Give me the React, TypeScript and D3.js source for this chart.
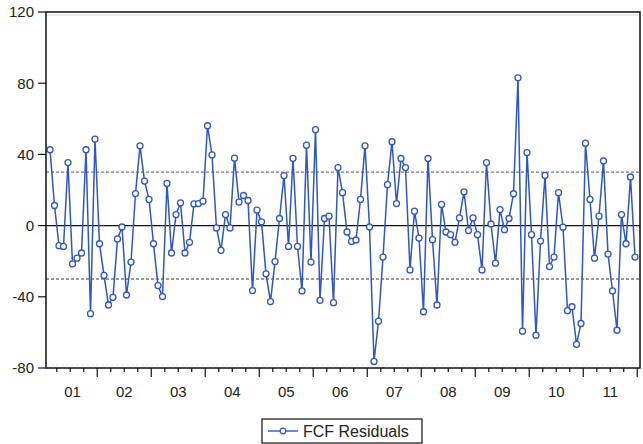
import React from 'react';
import * as d3 from 'd3';

// Monthly FCF residuals, 2001M02 .. 2011M12
const residuals: number[] = [
  42.6, 11.3, -11.3, -11.7, 35.4, -21.5, -18.3, -15.4, 42.6, -49.5, 48.6, -10.2,
  -28, -44.6, -40.3, -7.5, -0.8, -39, -20.5, 18, 44.8, 25, 14.7, -10.2,
  -33.7, -39.9, 23.7, -15.4, 6.2, 12.8, -15.4, -9.4, 12.2, 12.4, 13.7, 56.1,
  39.7, -1.3, -13.9, 6.2, -1.3, 37.9, 13.2, 16.9, 14.1, -36.5, 8.7, 2.1,
  -27.1, -42.7, -20.2, 4, 28.1, -11.7, 37.8, -11.7, -36.7, 45.2, -20.5, 53.9,
  -42, 4, 5.3, -43.3, 32.6, 18.5, -3.6, -8.9, -8.1, 14.7, 44.8, -0.8,
  -76.3, -53.7, -17.7, 23, 47.1, 12.4, 37.7, 32.6, -24.9, 8.1, -7, -48.4,
  37.7, -7.9, -44.6, 11.9, -3.6, -5.1, -9.4, 4.3, 19, -2.8, 4.3, -5.1,
  -24.9, 35.4, 0.9, -21.1, 9, -2.3, 4, 17.9, 83, -59.3, 41, -5.1,
  -61.6, -8.7, 28.2, -23, -17.7, 18.5, -0.9, -47.8, -45.6, -66.7, -55, 46.3,
  14.7, -18.3, 5.3, 36.3, -16, -36.7, -58.8, 6.2, -10.2, 27.3, -17.7,
];
const firstMonth = 2; // February 2001
const yearLabels = ['01', '02', '03', '04', '05', '06', '07', '08', '09', '10', '11'];
const yTicks = [-80, -40, 0, 40, 80, 120];
const bandLevels = [30, -30];
const seriesName = 'FCF Residuals';

const W = 643;
const H = 444;
const plotL = 46, plotR = 640, plotT = 12, plotB = 368;
const blue = '#2f56c6';
const font = 'Arial, "Liberation Sans", sans-serif';

export default function App() {
  const n = residuals.length;
  const x = d3.scaleLinear().domain([-0.5, n - 0.5]).range([47.75, 637.25]);
  const y = d3.scaleLinear().domain([-80, 120]).range([plotB, plotT]);

  const line = d3
    .line<number>()
    .x((_, i) => x(i))
    .y((d) => y(d))
    .curve(d3.curveLinear);

  // slot boundaries at quarter starts (month index 0 = Jan)
  const ticks: { pos: number; major: boolean }[] = [];
  for (let k = 0; k <= n; k++) {
    const month = (firstMonth - 1 + k) % 12;
    if (month % 3 === 0) ticks.push({ pos: x(k - 0.5), major: month === 0 });
  }
  const yearStarts: number[] = [];
  for (let k = 0; k <= n; k++) {
    if ((firstMonth - 1 + k) % 12 === 0) yearStarts.push(k);
  }
  const yearCenters = yearLabels.map((_, i) => {
    const s = i === 0 ? -0.5 - (firstMonth - 1) : yearStarts[i - 1] - 0.5;
    const e = yearStarts[i] - 0.5;
    return (x(Math.max(s, -0.5)) + x(e)) / 2;
  });

  return (
    <svg
      width={W}
      height={H}
      style={{ position: 'absolute', left: 0, top: 0, display: 'block', background: '#fff' }}
      fontFamily={font}
    >
      <rect x={0} y={0} width={W} height={H} fill="#fff" />
      {/* faint inner border lines */}
      <line x1={plotL} x2={plotR} y1={plotT + 3} y2={plotT + 3} stroke="#d8d8d8" strokeWidth={1} />
      <line x1={plotL} x2={plotR} y1={plotB - 3} y2={plotB - 3} stroke="#e2e2e2" strokeWidth={1} strokeDasharray="3,2" />
      {/* band lines */}
      {bandLevels.map((v) => (
        <line key={v} x1={plotL} x2={plotR} y1={y(v)} y2={y(v)} stroke="#7a7a7a" strokeWidth={1.3} strokeDasharray="3,2" />
      ))}
      {/* zero line */}
      <line x1={plotL} x2={plotR} y1={y(0)} y2={y(0)} stroke="#111" strokeWidth={1.4} />
      {/* series */}
      <path d={line(residuals) || ''} fill="none" stroke={blue} strokeWidth={1.5} />
      {residuals.map((d, i) => (
        <circle key={i} cx={x(i)} cy={y(d)} r={3} fill="#fff" stroke={blue} strokeWidth={1.3} />
      ))}
      {/* frame */}
      <rect x={plotL} y={plotT} width={plotR - plotL} height={plotB - plotT} fill="none" stroke="#111" strokeWidth={1.5} />
      {/* y axis ticks */}
      {yTicks.map((t) => (
        <g key={t}>
          <line x1={plotL - 8} x2={plotL} y1={y(t)} y2={y(t)} stroke="#111" strokeWidth={1.2} />
          <text x={plotL - 12} y={y(t)} dy="0.36em" textAnchor="end" fontSize={15} fill="#222">
            {t}
          </text>
        </g>
      ))}
      {/* x axis ticks */}
      {ticks.map((t, i) => (
        <line key={i} x1={t.pos} x2={t.pos} y1={plotB} y2={plotB + (t.major ? 9 : 4)} stroke="#111" strokeWidth={1.2} />
      ))}
      {yearLabels.map((lab, i) => (
        <text key={lab} x={yearCenters[i]} y={397} textAnchor="middle" fontSize={15} fill="#222">
          {lab}
        </text>
      ))}
      {/* legend */}
      <g>
        <rect x={262} y={419} width={160} height={24} fill="#fff" stroke="#111" strokeWidth={1.2} />
        <line x1={268} x2={298} y1={431} y2={431} stroke={blue} strokeWidth={1.4} />
        <circle cx={283} cy={431} r={2.8} fill="#fff" stroke={blue} strokeWidth={1.2} />
        <text x={303} y={431} dy="0.36em" fontSize={16} fill="#222">
          {seriesName}
        </text>
      </g>
    </svg>
  );
}
